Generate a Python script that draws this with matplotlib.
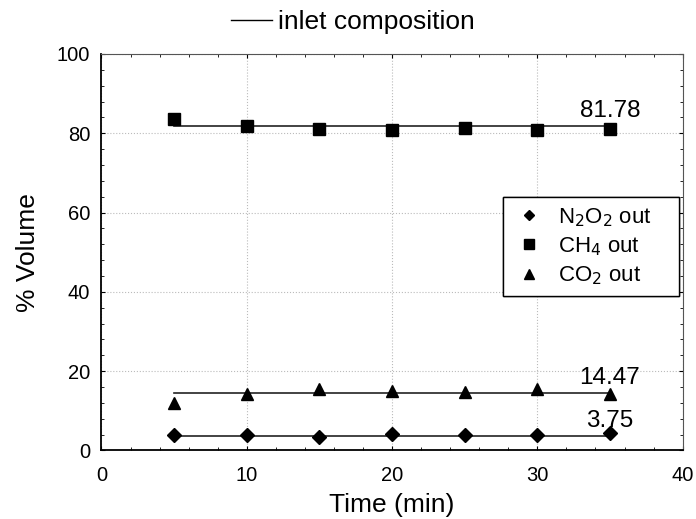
import matplotlib
matplotlib.use("Agg")
import matplotlib.pyplot as plt
from matplotlib.lines import Line2D
from matplotlib.ticker import MultipleLocator

plt.rcParams['font.family'] = ['Liberation Sans', 'DejaVu Sans']

# Daten
time = [5, 10, 15, 20, 25, 30, 35]
n2o2_out = [4.0, 3.8, 3.5, 4.1, 3.8, 3.8, 4.4]
ch4_out = [83.6, 81.9, 81.1, 80.9, 81.3, 80.9, 81.0]
co2_out = [11.9, 14.3, 15.6, 15.0, 14.7, 15.4, 14.3]
inlet = {"N2O2": 3.75, "CH4": 81.78, "CO2": 14.47}
inlet_labels = ["3.75", "81.78", "14.47"]

fig = plt.figure(figsize=(6.96, 5.19), dpi=100)
ax = fig.add_axes([0.1458, 0.132, 0.835, 0.764])

# Inlet-Linien
for val in inlet.values():
    ax.plot([time[0], time[-1]], [val, val], color='#222222', lw=1.2, zorder=2)

# Leerzeichen am Ende für mehr Rand rechts in der Legende
ax.plot(time, n2o2_out, 'D', color='black', ms=7, ls='none', label=r'N$_2$O$_2$ out    ', zorder=3)
ax.plot(time, ch4_out, 's', color='black', ms=9, ls='none', label=r'CH$_4$ out    ', zorder=3)
ax.plot(time, co2_out, '^', color='black', ms=9, ls='none', label=r'CO$_2$ out    ', zorder=3)

# Werte beschriften
for val, txt in zip(inlet.values(), inlet_labels):
    ax.text(35.0, val + 1.0, txt, ha='center', va='bottom', fontsize=17.5)

ax.set_xlim(0, 40)
ax.set_ylim(0, 100)
ax.xaxis.set_major_locator(MultipleLocator(10))
ax.xaxis.set_minor_locator(MultipleLocator(2))
ax.yaxis.set_major_locator(MultipleLocator(20))
ax.yaxis.set_minor_locator(MultipleLocator(4))
ax.tick_params(which='both', direction='in', labelsize=14.5, top=True, right=True)
ax.tick_params(axis='x', pad=11)
ax.tick_params(axis='y', pad=8)
ax.tick_params(which='major', length=3)
ax.tick_params(which='minor', length=2.5)
for s in ['top', 'right']:
    ax.spines[s].set_color('#555555')
for s in ['left', 'bottom']:
    ax.spines[s].set_linewidth(1.3)
ax.grid(which='major', color='#bbbbbb', linestyle=':', lw=0.8)
ax.set_xlabel("Time (min)", fontsize=19, labelpad=6)
ax.set_ylabel("% Volume", fontsize=19, labelpad=12)

leg = ax.legend(loc='upper right', bbox_to_anchor=(0.994, 0.639), borderaxespad=0, fontsize=16,
                fancybox=False, edgecolor='black', framealpha=1, handlelength=1.5,
                handletextpad=0.55, borderpad=0.4, labelspacing=0.3, markerscale=0.75)
leg.get_frame().set_linewidth(1.0)
ax.add_artist(leg)

h_inlet = Line2D([0], [0], color='black', lw=1)
fig.legend([h_inlet], ["inlet composition"], loc='upper center', bbox_to_anchor=(0.507, 1.027),
           frameon=False, fontsize=19, handlelength=1.55, handletextpad=0.25)

plt.savefig('out.png', dpi=100)
